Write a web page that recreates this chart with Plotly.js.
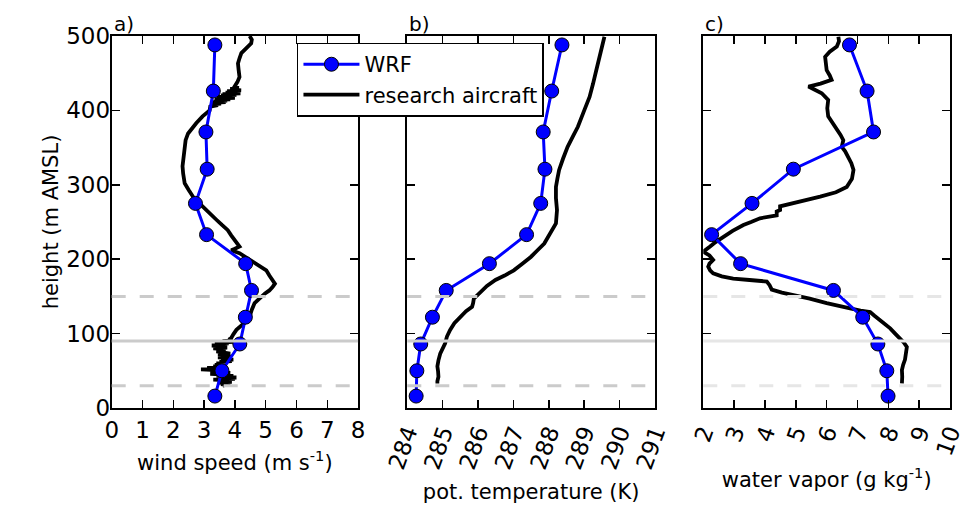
<!DOCTYPE html>
<html>
<head>
<meta charset="utf-8">
<script src="https://cdn.plot.ly/plotly-3.0.1.min.js"></script>
<style>html,body{margin:0;padding:0;background:#fff;}#chart{width:973px;height:507px;}</style>
</head>
<body>
<div id="chart"></div>
<script>
// WRF model levels (m AMSL)
const wrfHeight = [16, 50, 86, 122, 158, 194, 233, 275, 321, 371, 426, 488];
const wrfWind   = [3.35, 3.58, 4.16, 4.34, 4.54, 4.35, 3.08, 2.72, 3.10, 3.06, 3.30, 3.35];
const wrfTheta  = [284.25, 284.27, 284.38, 284.71, 285.10, 286.32, 287.37, 287.77, 287.89, 287.84, 288.08, 288.37];
const wrfQv     = [7.99, 7.95, 7.66, 7.17, 6.22, 3.21, 2.27, 3.58, 4.92, 7.52, 7.31, 6.74];

// research aircraft profile: wind speed
const acWindHeight = [500,495,490,484,477,470,463,455,445,438,432,430,429,427,426,425,424,423,422,421,420,419,418,417,416,415,414,413,412,411,410,409,408,407,405,400,392,383,376,369,360,351,336,325,315,308,302,293,284,277,271,262,253,246,239,232,226,220,217,214,212,208,204,199,192,185,178,172,167,163,158,154,147,141,132,123,114,105,99,94,92,91,90,89,88,87,86,85,84,83,82,81,80,79,78,77,76,75,74,73,72,71,70,69,68,67,66,65,64,63,62,61,60,59,58,57,56,55,54,53,52,51,50,49,48,47,46,45,44,43,42,41,40,39,38,37,36,35,34,33,32,31,30];
const acWind = [4.48,4.55,4.53,4.40,4.21,4.15,4.10,4.12,4.15,4.08,3.99,4.12,3.85,4.20,3.75,4.10,3.70,4.18,3.60,4.05,3.55,3.95,3.45,4.00,3.40,3.85,3.35,3.75,3.30,3.70,3.25,3.55,3.30,3.45,3.20,3.18,2.95,2.75,2.60,2.48,2.40,2.37,2.34,2.30,2.32,2.35,2.37,2.50,2.64,2.80,2.96,3.18,3.40,3.58,3.77,3.88,3.99,4.10,4.15,4.00,3.88,4.15,4.30,4.48,4.75,5.02,5.12,5.23,5.30,5.23,5.12,4.98,4.80,4.64,4.55,4.48,4.30,4.05,3.95,3.88,3.80,3.92,3.60,3.95,3.55,3.80,3.35,3.75,3.25,3.70,3.40,3.75,3.30,3.65,3.45,3.70,3.40,3.60,3.55,3.85,3.45,3.80,3.50,3.90,3.45,3.85,3.60,3.95,3.55,3.90,3.50,3.75,3.40,3.70,3.35,3.60,3.30,3.55,3.10,3.50,2.90,3.40,3.30,3.65,3.55,3.85,3.20,3.70,3.40,3.95,3.50,4.05,3.40,4.00,3.30,3.85,3.50,3.90,3.45,3.85,3.55,3.70,3.60];

// research aircraft profile: potential temperature
const acThetaHeight = [499,490,481,468,454,436,418,400,389,378,365,351,335,320,308,297,282,266,248,235,221,212,203,194,185,178,172,164,156,150,147,141,136,130,123,114,105,96,87,80,73,64,56,49,42,36,33];
const acTheta = [289.57,289.52,289.48,289.42,289.34,289.25,289.15,289.00,288.92,288.82,288.68,288.53,288.40,288.29,288.24,288.20,288.20,288.23,288.20,288.05,287.87,287.68,287.49,287.25,287.01,286.75,286.49,286.25,286.07,285.95,285.88,285.86,285.83,285.66,285.50,285.33,285.21,285.12,285.07,285.00,284.93,284.88,284.85,284.87,284.88,284.85,284.85];

// research aircraft profile: water vapour
const acQvHeight = [499,493,486,479,472,463,454,447,441,436,432,428,423,414,403,392,383,374,367,360,351,345,338,329,320,308,297,290,284,279,275,271,266,264,259,255,250,246,238,230,223,217,213,210,205,199,194,190,185,181,177,174,172,170,165,159,155,152,147,141,138,134,131,129,124,118,113,107,100,94,88,82,74,65,58,51,42,33];
const acQv = [6.38,6.40,6.33,6.10,5.95,5.97,6.00,6.10,6.16,5.80,5.41,5.60,5.84,6.05,6.02,6.05,6.20,6.33,6.45,6.54,6.49,6.60,6.70,6.80,6.87,6.82,6.65,6.30,5.79,5.30,4.81,4.49,4.49,4.38,4.38,3.84,3.55,3.30,2.95,2.65,2.40,2.22,2.08,2.00,2.20,2.32,2.20,2.16,2.22,2.32,2.60,2.97,3.50,4.06,4.15,4.22,4.55,4.92,5.45,6.00,6.40,6.76,7.10,7.41,7.55,7.73,7.90,8.06,8.22,8.38,8.50,8.60,8.58,8.54,8.48,8.44,8.45,8.44];

// reference heights (horizontal lines)
const refDashed = [150, 30];
const refSolid = [90];

const xTicksA = [0,1,2,3,4,5,6,7,8];
const xTicksB = [284,285,286,287,288,289,290,291];
const xTicksC = [2,3,4,5,6,7,8,9,10];
const yTicks = [0,100,200,300,400,500];

const FONT = 'DejaVu Sans, sans-serif';
const BLUE = '#0000ff';

function acTrace(x, y, xa, ya, show) {
  return {x: x, y: y, xaxis: xa, yaxis: ya, type: 'scatter', mode: 'lines',
    name: 'research aircraft', legendrank: 2, showlegend: show,
    line: {color: '#000000', width: 3.8}};
}
function wrfTrace(x, y, xa, ya, show) {
  return {x: x, y: y, xaxis: xa, yaxis: ya, type: 'scatter', mode: 'lines+markers',
    name: 'WRF', legendrank: 1, showlegend: show,
    line: {color: BLUE, width: 3},
    marker: {color: BLUE, size: 14, line: {color: '#000000', width: 1}}};
}

const data = [
  acTrace(acWind, acWindHeight, 'x', 'y', true),
  wrfTrace(wrfWind, wrfHeight, 'x', 'y', true),
  acTrace(acTheta, acThetaHeight, 'x2', 'y2', false),
  wrfTrace(wrfTheta, wrfHeight, 'x2', 'y2', false),
  acTrace(acQv, acQvHeight, 'x3', 'y3', false),
  wrfTrace(wrfQv, wrfHeight, 'x3', 'y3', false)
];

function axisBase() {
  return {showline: true, linecolor: '#000', linewidth: 2, mirror: 'allticks',
    ticks: 'inside', ticklen: 8, tickwidth: 1.5, tickcolor: '#000',
    showgrid: false, zeroline: false, automargin: false,
    tickfont: {family: FONT, size: 23, color: '#000'}};
}

const TITLE_SIZE = 21;
const yDom = [0.1953, 0.9290];
const layout = {
  width: 973, height: 507,
  margin: {l: 0, r: 0, t: 0, b: 0},
  paper_bgcolor: '#fff', plot_bgcolor: '#fff',
  font: {family: FONT, color: '#000'},
  showlegend: true,
  legend: {x: 0.3052, y: 0.916, xanchor: 'left', yanchor: 'top',
    bgcolor: '#fff', bordercolor: '#000', borderwidth: 1.5,
    font: {family: FONT, size: 21, color: '#000'}, itemwidth: 56},
  xaxis: Object.assign(axisBase(), {domain: [0.1148, 0.3680], range: [0, 8], anchor: 'y',
    tickvals: xTicksA, ticktext: xTicksA.map(String),
    title: {text: 'wind speed (m s<sup>-1</sup>)', font: {family: FONT, size: TITLE_SIZE}, standoff: 14}}),
  yaxis: Object.assign(axisBase(), {domain: yDom, range: [0, 500], anchor: 'x',
    tickvals: yTicks, ticktext: yTicks.map(String), ticklabelstandoff: -5,
    title: {text: 'height (m AMSL)', font: {family: FONT, size: TITLE_SIZE}, standoff: 2}}),
  xaxis2: Object.assign(axisBase(), {domain: [0.4186, 0.6732], range: [284, 291], anchor: 'y2',
    tickvals: xTicksB, ticktext: xTicksB.map(String), tickangle: -70,
    title: {text: 'pot. temperature (K)', font: {family: FONT, size: TITLE_SIZE}, standoff: 12}}),
  yaxis2: Object.assign(axisBase(), {domain: yDom, range: [0, 500], anchor: 'x2',
    tickvals: yTicks, showticklabels: false}),
  xaxis3: Object.assign(axisBase(), {domain: [0.7228, 0.9764], range: [2, 10], anchor: 'y3',
    tickvals: xTicksC, ticktext: xTicksC.map(String), tickangle: -70,
    title: {text: 'water vapor (g kg<sup>-1</sup>)', font: {family: FONT, size: TITLE_SIZE}, standoff: 14}}),
  yaxis3: Object.assign(axisBase(), {domain: yDom, range: [0, 500], anchor: 'x3',
    tickvals: yTicks, showticklabels: false}),
  shapes: [],
  annotations: []
};

const panels = [['x', 'y', '#cbcbcb'], ['x2', 'y2', '#cbcbcb'], ['x3', 'y3', '#e6e6e6']];
panels.forEach(function (p) {
  refDashed.forEach(function (h) {
    layout.shapes.push({type: 'line', xref: p[0] + ' domain', yref: p[1], x0: 0, x1: 1, y0: h, y1: h,
      layer: 'above', line: {color: p[2], width: 3, dash: '14px,14px'}});
  });
  refSolid.forEach(function (h) {
    layout.shapes.push({type: 'line', xref: p[0] + ' domain', yref: p[1], x0: 0, x1: 1, y0: h, y1: h,
      layer: 'above', line: {color: p[2], width: 3}});
  });
});

const panelLabels = ['a)', 'b)', 'c)'];
['x', 'x2', 'x3'].forEach(function (xa, i) {
  layout.annotations.push({text: panelLabels[i], xref: xa + ' domain', yref: 'paper', x: 0, y: 0.929,
    xanchor: 'left', yanchor: 'bottom', showarrow: false, yshift: -2,
    font: {family: FONT, size: 20, color: '#000'}});
});

Plotly.newPlot('chart', data, layout, {staticPlot: true});
</script>
</body>
</html>
